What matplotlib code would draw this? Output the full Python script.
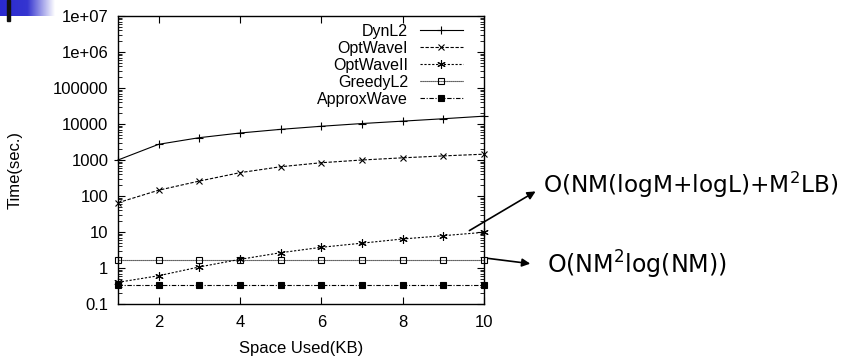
import numpy as np
import matplotlib
matplotlib.use("Agg")
import matplotlib.pyplot as plt
from matplotlib.ticker import FixedLocator, FixedFormatter, LogLocator, NullFormatter
from matplotlib.colors import LinearSegmentedColormap
import matplotlib.patches as mpatches

plt.rcParams['font.family'] = ['Liberation Sans', 'DejaVu Sans']

space_kb = [1, 2, 3, 4, 5, 6, 7, 8, 9, 10]
dynl2 = [1000, 2730, 4170, 5620, 7100, 8650, 10300, 12000, 14000, 16500]
optwave1 = [65, 145, 260, 445, 650, 840, 1000, 1150, 1300, 1450]
optwave2 = [0.40, 0.61, 1.07, 1.74, 2.66, 3.76, 4.9, 6.4, 7.9, 9.8]
greedyl2 = [1.7] * 10
approxwave = [0.33] * 10

series_names = ["DynL2", "OptWaveI", "OptWaveII", "GreedyL2", "ApproxWave"]
ytick_vals = [0.1, 1, 10, 100, 1000, 10000, 100000, 1e6, 1e7]
ytick_labels = ["0.1", "1", "10", "100", "1000", "10000", "100000", "1e+06", "1e+07"]
xtick_vals = [2, 4, 6, 8, 10]
annot1 = "O(NM(logM+logL)+M$^2$LB)"
annot2 = "O(NM$^2$log(NM))"

W, H = 847, 358
fig = plt.figure(figsize=(W / 100, H / 100), dpi=100)
ax = fig.add_axes([118 / W, 54 / H, 366 / W, 288 / H])

asterisk = (6, 2, 0)
styles = [
    dict(ls='-', marker='+', ms=6, mfc='none'),
    dict(ls=(0, (3, 1.5)), marker='x', ms=4.5, mfc='none'),
    dict(ls=(0, (2, 1.5)), marker=asterisk, ms=6, mfc='none'),
    dict(ls=(0, (1, 0.8)), marker='s', ms=4, mfc='none'),
    dict(ls=(0, (4, 1.5, 1, 1.5)), marker='s', ms=4, mfc='black'),
]
data = [dynl2, optwave1, optwave2, greedyl2, approxwave]
handles = []
for name, ys, st in zip(series_names, data, styles):
    ln, = ax.plot(space_kb, ys, color='black', lw=0.8, mew=0.8, clip_on=False,
                  label=name, **st)
    handles.append(ln)

ax.set_yscale('log')
ax.set_ylim(0.1, 1e7)
ax.set_xlim(1, 10)
ax.yaxis.set_major_locator(FixedLocator(ytick_vals))
ax.yaxis.set_major_formatter(FixedFormatter(ytick_labels))
ax.yaxis.set_minor_locator(LogLocator(base=10, subs=np.arange(2, 10), numticks=20))
ax.yaxis.set_minor_formatter(NullFormatter())
ax.xaxis.set_major_locator(FixedLocator(xtick_vals))
ax.tick_params(which='both', direction='in', top=True, right=True, labelsize=12)
ax.tick_params(axis='y', pad=7)
ax.tick_params(axis='x', pad=8)
ax.tick_params(which='major', length=5, width=0.8)
ax.tick_params(which='minor', length=3, width=0.6)
for sp in ax.spines.values():
    sp.set_linewidth(1.0)

ax.set_ylabel("Time(sec.)", fontsize=12)
ax.yaxis.set_label_coords((15 - 118) / 366, (304 - 170) / 288)
ax.yaxis.label.set_va('center')
ax.set_xlabel("Space Used(KB)", fontsize=12)
ax.xaxis.set_label_coords(0.5, (304 - 348) / 288)
ax.xaxis.label.set_va('center')

leg = ax.legend(handles=handles, loc='upper right', frameon=False, fontsize=11.5,
                markerfirst=False, handlelength=2.7, handletextpad=0.75,
                labelspacing=0.12, borderaxespad=0, borderpad=0,
                bbox_to_anchor=((463 - 118) / 366, (304 - 24) / 288))
for t in leg.get_texts():
    t.set_ha('right')

# annotations, sized to the reference widths
fig.canvas.draw()
renderer = fig.canvas.get_renderer()
for txt, x0, yc, target_w in [(annot1, 543, 185, 294), (annot2, 547, 265, 180)]:
    t = fig.text(x0 / W, 1 - yc / H, txt, fontsize=20, family='DejaVu Sans',
                 va='center', ha='left')
    w = t.get_window_extent(renderer).width
    t.set_fontsize(20 * target_w / w)

fig.add_artist(mpatches.FancyArrowPatch(
    (467 / W, 1 - 232 / H), (538 / W, 1 - 190 / H), transform=fig.transFigure,
    arrowstyle='-|>', mutation_scale=12, lw=1.2, color='black'))
fig.add_artist(mpatches.FancyArrowPatch(
    (485 / W, 1 - 258 / H), (533 / W, 1 - 264 / H), transform=fig.transFigure,
    arrowstyle='-|>', mutation_scale=12, lw=1.2, color='black'))

# slide decoration at top-left
dax = fig.add_axes([0, 1 - 16 / H, 55 / W, 16 / H])
grad = np.linspace(0, 1, 256).reshape(1, -1)
cm = LinearSegmentedColormap.from_list('g', ['#2a2ad0', '#3535d0', '#ffffff'])
dax.imshow(grad, aspect='auto', cmap=cm, extent=[0, 1, 0, 1])
dax.axis('off')
fig.add_artist(mpatches.Rectangle((7 / W, 1 - 21 / H), 3 / W, 21 / H,
               transform=fig.transFigure, color='#111111'))

fig.savefig("out.png", dpi=100)
